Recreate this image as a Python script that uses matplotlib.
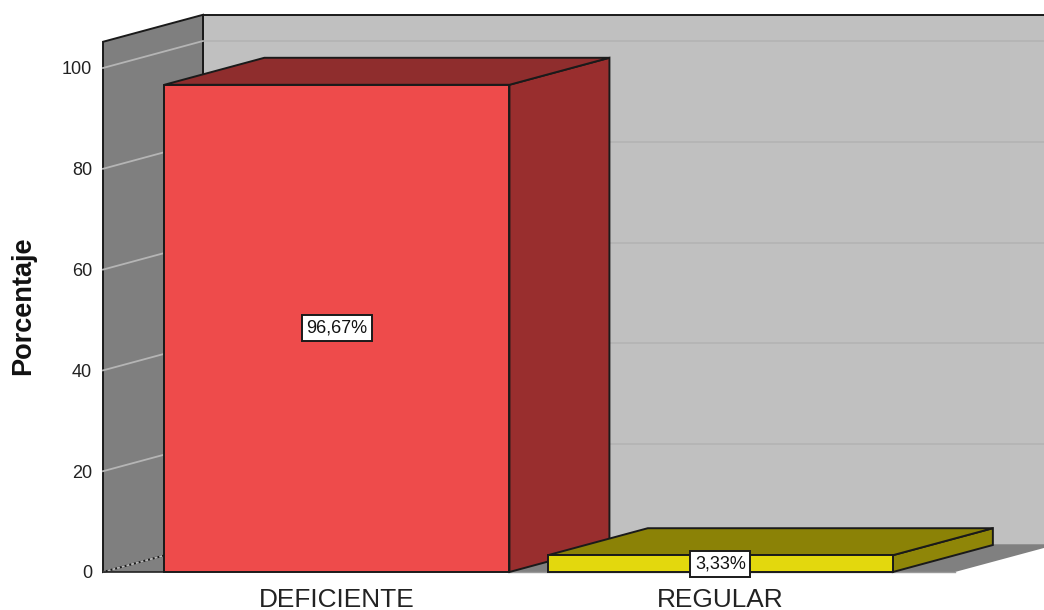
from matplotlib import pyplot as plt
from matplotlib.patches import Polygon

categories = ['DEFICIENTE', 'REGULAR']
percent = [96.67, 3.33]
percent_labels = ['96,67%', '3,33%']
y_ticks = [0, 20, 40, 60, 80, 100]

front_colors = ['#ee4b4b', '#e3d80d']
top_colors = ['#8f2d2d', '#8b8206']
side_colors = ['#992e2e', '#8f8608']

plt.rcParams['font.family'] = ['Liberation Sans', 'DejaVu Sans']

W, H = 1044, 610
fig = plt.figure(figsize=(W / 100, H / 100), dpi=100)
ax = fig.add_axes([103 / W, (H - 572) / H, 852 / W, 504 / H])

# x axis is category index, y axis is percent
x0, x1 = -0.61, 1.612
ax.set_xlim(x0, x1)
ax.set_ylim(0, 100)
dx = 100 / 383.5
dy = 27 / 5.04
top = 105.2
bar_w = 0.9


def poly(pts, fc, z=1, ec='#1a1a1a', lw=1.4):
    ax.add_patch(Polygon(pts, closed=True, facecolor=fc, edgecolor=ec, linewidth=lw,
                         zorder=z, clip_on=False, joinstyle='miter'))


# walls and floor
poly([(x0 + dx, dy), (x1 + dx, dy), (x1 + dx, top + dy), (x0 + dx, top + dy)], '#c0c0c0')
poly([(x0, 0), (x0 + dx, dy), (x1 + dx, dy), (x1, 0)], '#808080', z=1.2, ec='none', lw=0)
poly([(x0, 0), (x0 + dx, dy), (x0 + dx, top + dy), (x0, top)], '#7f7f7f', z=1.3)

# grid lines on both walls
for t in y_ticks:
    if t == 0:
        ax.plot([x0, x0 + dx], [t, t + dy], color='#b5b5b5', lw=1.4, ls=(0, (1.5, 1)),
                zorder=1.5, clip_on=False)
        ax.plot([x0 + dx, x1 + dx], [t + dy, t + dy], color='#a9a9a9', lw=1.2,
                zorder=1.1, clip_on=False)
        continue
    ax.plot([x0, x0 + dx], [t, t + dy], color='#b5b5b5', lw=1.3, zorder=1.5, clip_on=False)
    ax.plot([x0 + dx, x1 + dx], [t + dy, t + dy], color='#b4b4b4', lw=1.3, zorder=1.1,
            clip_on=False)

# bars
for i, v in enumerate(percent):
    l, r = i - bar_w / 2, i + bar_w / 2
    z = 3 + i
    poly([(r, 0), (r + dx, dy), (r + dx, v + dy), (r, v)], side_colors[i], z=z)
    poly([(l, v), (l + dx, v + dy), (r + dx, v + dy), (r, v)], top_colors[i], z=z)
    poly([(l, 0), (r, 0), (r, v), (l, v)], front_colors[i], z=z + 0.1)
    ax.text(i, v / 2, percent_labels[i], ha='center', va='center', fontsize=13,
            color='#111111', zorder=6,
            bbox=dict(boxstyle='square,pad=0.25', fc='white', ec='#1a1a1a', lw=1.4))

# axes
for s in ax.spines.values():
    s.set_visible(False)
ax.plot([x0, -bar_w / 2], [0, 0], color='#222222', lw=1.2, zorder=2.5, clip_on=False)
ax.plot([bar_w / 2, x1], [0, 0], color='#9a9a9a', lw=1.0, zorder=2.5, clip_on=False)
ax.set_xticks(range(len(categories)))
ax.set_xticklabels(categories, fontsize=18.9, color='#222222')
ax.set_yticks(y_ticks)
ax.tick_params(axis='y', length=0, pad=8, labelsize=13, labelcolor='#222222')
ax.tick_params(axis='x', length=0, pad=11.5)
ax.set_ylabel('Porcentaje', fontsize=19.5, fontweight='bold', color='#111111')
ax.yaxis.set_label_coords((36 - 103) / 852, (572 - 306) / 504)

fig.savefig('out.png', dpi=100)
